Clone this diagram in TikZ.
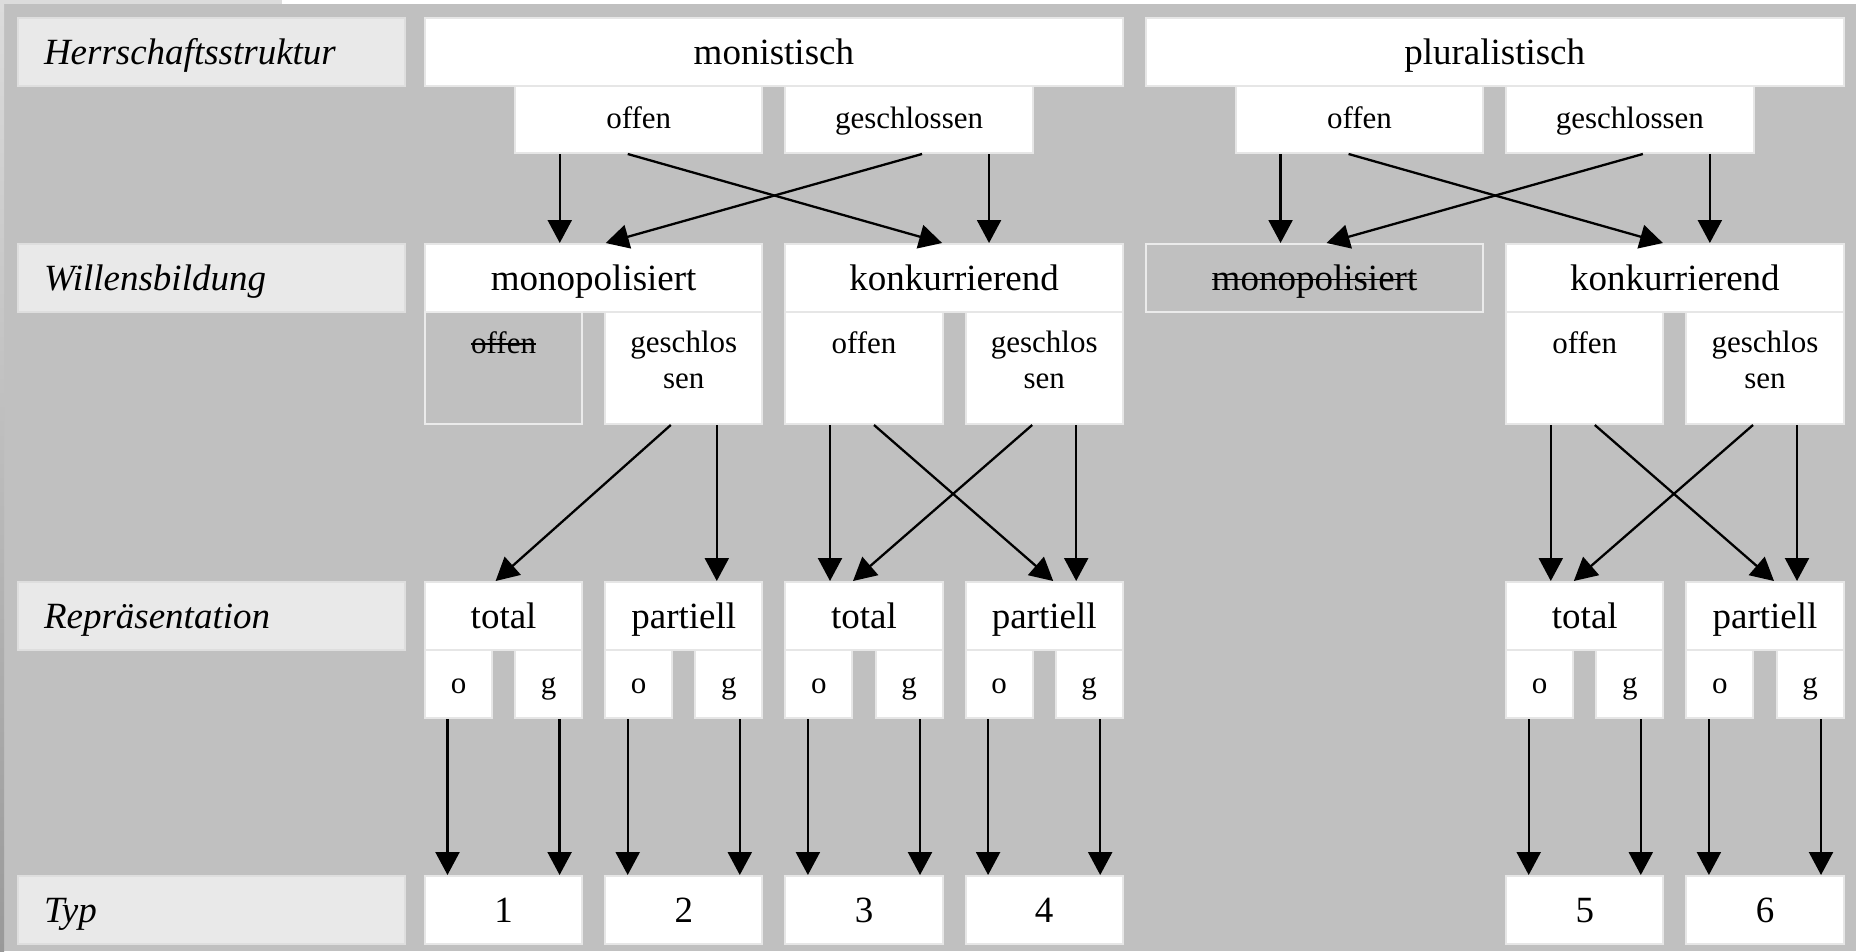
\documentclass[tikz,border=0pt]{standalone}
\usepackage{fontspec}
\setmainfont{Liberation Serif}
\usetikzlibrary{arrows.meta}
\definecolor{bg}{HTML}{C0C0C0}
\definecolor{bord}{HTML}{E6E6E6}
\definecolor{lab}{HTML}{E9E9E9}
\definecolor{labbord}{HTML}{DEDEDE}
\definecolor{sbord}{HTML}{EBEBEB}
\definecolor{topstrip}{HTML}{DCDCDC}
\newcommand\strk[1]{\setbox0=\hbox{#1}\rlap{\rule[0.26em]{\wd0}{1.8pt}}\box0}
\tikzset{
  box/.style={draw=bord, line width=2pt, fill=white, inner sep=0pt, anchor=north west},
  sbox/.style={box, fill=bg, draw=sbord},
  big/.style={font=\fontsize{37}{44}\selectfont, text height=30pt, text depth=6pt},
  small/.style={font=\fontsize{31}{36}\selectfont, text height=24pt, text depth=6pt},
  labbox/.style={draw=labbord, line width=2pt, fill=lab, anchor=north west, minimum height=68pt,
     text width=335pt, align=left, inner xsep=26pt, inner ysep=0pt,
     font=\fontsize{37}{44}\selectfont\itshape, text height=30pt, text depth=6pt},
  subtext/.style={anchor=north, inner sep=0pt, align=center, font=\fontsize{31}{36}\selectfont},
  arr/.style={-{Triangle[length=23pt,width=24pt]}, line width=2.3pt, black},
  wide/.style={minimum width=697.8pt, minimum height=68pt},
  three/.style={minimum width=247.3pt, minimum height=67pt},
  four/.style={minimum width=337.4pt, minimum height=68pt},
  two/.style={minimum width=157.2pt, minimum height=68pt},
  subb/.style={minimum width=157.2pt, minimum height=112pt},
  one/.style={minimum width=67pt, minimum height=68pt},
}
\begin{document}
\begin{tikzpicture}[x=1pt,y=-1pt]
\useasboundingbox (0,0) rectangle (1856,951);
\fill[bg] (0,0) rectangle (1856,951);
\fill[topstrip] (0,0) rectangle (282,4);
\fill[white] (282,0) rectangle (1856,4);
\shade[top color=topstrip, bottom color=black!40] (0,4) rectangle (4,951);

% labels
\node[labbox] (lh) at (17,17) {Herrschaftsstruktur};
\node[labbox] (lw) at (17,243) {Willensbildung};
\node[labbox] (lr) at (17,581) {Repräsentation};
\node[labbox] (lt) at (17,875) {Typ};

% row 1
\node[box,big,wide] (mon) at (424,17) {monistisch};
\node[box,big,wide] (plu) at (1144.8,17) {pluralistisch};
\node[box,small,three] (offm) at (514.1,85) {offen};
\node[box,small,three] (gesm) at (784.4,85) {geschlossen};
\node[box,small,three] (offp) at (1234.9,85) {offen};
\node[box,small,three] (gesp) at (1505.2,85) {geschlossen};

% row 2
\node[box,big,four] (monom) at (424,243) {monopolisiert};
\node[box,big,four] (konkm) at (784.4,243) {konkurrierend};
\node[sbox,big,four] (monop) at (1144.8,243) {\strk{monopolisiert}};
\node[box,big,four] (konkp) at (1505.2,243) {konkurrierend};

\node[sbox,subb] (s1) at (424,311) {};
\node[box,subb] (s2) at (604.2,311) {};
\node[box,subb] (s3) at (784.4,311) {};
\node[box,subb] (s4) at (964.6,311) {};
\node[box,subb] (s7) at (1505.2,311) {};
\node[box,subb] (s8) at (1685.4,311) {};
\node[subtext] (s1t) at ([yshift=-20pt]s1.north) {\strk{offen}};
\node[subtext] (s2t) at ([yshift=-20pt]s2.north) {geschlos\\sen};
\node[subtext] (s3t) at ([yshift=-20pt]s3.north) {offen};
\node[subtext] (s4t) at ([yshift=-20pt]s4.north) {geschlos\\sen};
\node[subtext] (s7t) at ([yshift=-20pt]s7.north) {offen};
\node[subtext] (s8t) at ([yshift=-20pt]s8.north) {geschlos\\sen};

% row 3
\node[box,big,two] (r1) at (424,581) {total};
\node[box,big,two] (r2) at (604.2,581) {partiell};
\node[box,big,two] (r3) at (784.4,581) {total};
\node[box,big,two] (r4) at (964.6,581) {partiell};
\node[box,big,two] (r7) at (1505.2,581) {total};
\node[box,big,two] (r8) at (1685.4,581) {partiell};
\foreach \k/\t in {0/o,1/g,2/o,3/g,4/o,5/g,6/o,7/g,12/o,13/g,14/o,15/g}{
  \node[box,small,one] (q\k) at ({424+90.1*\k},649) {\t};
}

% row 4
\node[box,big,two] (t1) at (424,875) {1};
\node[box,big,two] (t2) at (604.2,875) {2};
\node[box,big,two] (t3) at (784.4,875) {3};
\node[box,big,two] (t4) at (964.6,875) {4};
\node[box,big,two] (t5) at (1505.2,875) {5};
\node[box,big,two] (t6) at (1685.4,875) {6};

% arrows top
\foreach \o/\g/\mo/\ko in {offm/gesm/monom/konkm, offp/gesp/monop/konkp}{
  \draw[arr] ([xshift=-79pt]\o.south) -- ([xshift=-79pt]\o.south |- \mo.north);
  \draw[arr] ([xshift=-11pt]\o.south) -- ([xshift=-12pt]\ko.north);
  \draw[arr] ([xshift=13pt]\g.south) -- ([xshift=12pt]\mo.north);
  \draw[arr] ([xshift=80pt]\g.south) -- ([xshift=80pt]\g.south |- \ko.north);
}

% arrows middle
\draw[arr] ([xshift=-13pt]s2.south) -- ([xshift=-8pt]r1.north);
\draw[arr] ([xshift=33pt]s2.south) -- ([xshift=33pt]s2.south |- r2.north);
\foreach \a/\b/\c/\d in {s3/s4/r3/r4, s7/s8/r7/r8}{
  \draw[arr] ([xshift=-34pt]\a.south) -- ([xshift=-34pt]\a.south |- \c.north);
  \draw[arr] ([xshift=10pt]\a.south) -- ([xshift=9pt]\d.north);
  \draw[arr] ([xshift=-12pt]\b.south) -- ([xshift=-11pt]\c.north);
  \draw[arr] ([xshift=32pt]\b.south) -- ([xshift=32pt]\b.south |- \d.north);
}

% arrows bottom
\foreach \k/\t/\s in {0/t1/-11,1/t1/11,2/t2/-11,3/t2/11,4/t3/-11,5/t3/11,6/t4/-11,7/t4/11,12/t5/-11,13/t5/11,14/t6/-11,15/t6/11}{
  \draw[arr] ([xshift=\s pt]q\k.south) -- ([xshift=\s pt]q\k.south |- \t.north);
}
\end{tikzpicture}
\end{document}
